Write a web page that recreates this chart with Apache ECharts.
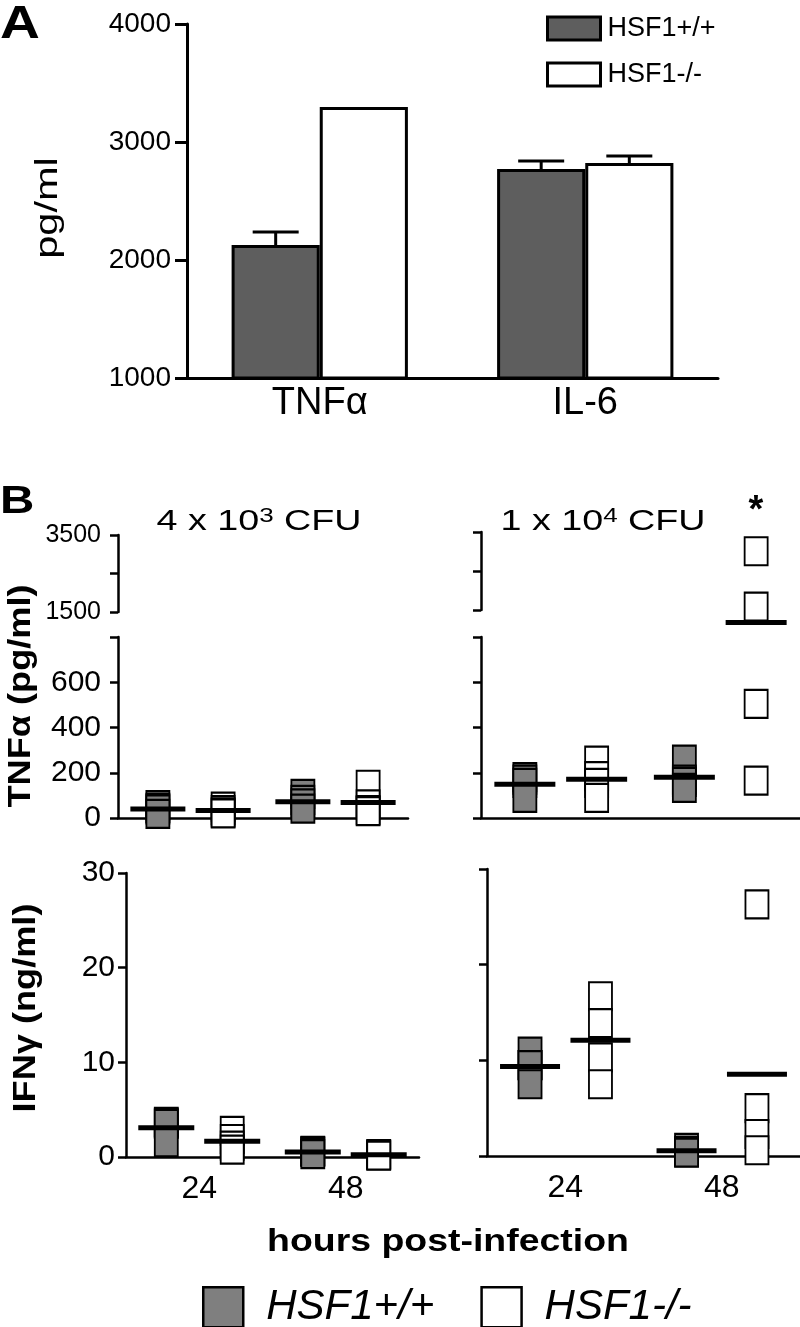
<!DOCTYPE html>
<html>
<head>
<meta charset="utf-8">
<script src="https://cdn.jsdelivr.net/npm/echarts@6/dist/echarts.min.js"></script>
<style>
html,body{margin:0;padding:0;background:#fff;}
#chart{width:800px;height:1327px;}
</style>
</head>
<body>
<div id="chart"></div>
<script>
// ---------- Panel A data ----------
const categoriesA = ['TNFα', 'IL-6'];
const groupNames = ['HSF1+/+', 'HSF1-/-'];
const wtMeanA = [2127, 2771];
const wtErrA = [110, 68];
const koMeanA = [3297, 2822];
const koErrA = [0, 59];
const ticksA = [1000, 4000, 1000]; // min, max, step

// ---------- Panel B data ----------
const timepoints = ['24', '48'];
// TNFα (pg/ml), 4 x 10^3 CFU
const tnfLow_wt = [[57, 45, 38, 18], [107, 80, 65, 41]];
const tnfLow_ko = [[50, 35, 25, 20], [147, 60, 35, 30]];
const tnfLow_wtMean = [40, 72];
const tnfLow_koMean = [33, 68];
// TNFα (pg/ml), 1 x 10^4 CFU
const tnfHigh_wt = [[181, 170, 155, 89], [258, 170, 160, 133]];
const tnfHigh_ko = [[254, 185, 155, 89], [3006, 1585, 504, 165]];
const tnfHigh_wtMean = [149, 180];
const tnfHigh_koMean = [171, 1180];
// IFNγ (ng/ml), 4 x 10^3 CFU
const ifnLow_wt = [[3.7, 3.6, 3.5, 1.55], [0.64, 0.6, 0.55, 0.3]];
const ifnLow_ko = [[2.75, 1.9, 1.2, 0.78], [0.3, 0.25, 0.2, 0.15]];
const ifnLow_wtMean = [3.1, 0.53];
const ifnLow_koMean = [1.66, 0.25];
// IFNγ (ng/ml), 1 x 10^4 CFU
const ifnHigh_wt = [[10.9, 9.5, 9.5, 7.5], [0.84, 0.5, 0.4, 0.35]];
const ifnHigh_ko = [[16.7, 13.9, 10.3, 7.5], [26.3, 5.0, 2.3, 0.6]];
const ifnHigh_wtMean = [9.35, 0.56];
const ifnHigh_koMean = [12.1, 8.55];

// axis ticks / labels
const tnfUpperTicks = [1500, 2500, 3500];
const tnfUpperLabels = [1500, 3500];
const tnfLowerTicks = [0, 200, 400, 600, 800];
const tnfLowerLabels = [0, 200, 400, 600];
const ifnTicks = [0, 10, 20, 30];

// ---------- styles ----------
const FONT = "'Liberation Sans', Arial, Helvetica, sans-serif";
const GRAY_A = '#5e5e5e';
const GRAY_B = '#7f7f7f';
const plain = v => String(v);

const chart = echarts.init(document.getElementById('chart'), null, {renderer: 'canvas'});

const grids = [
  {left: 187, top: 24, width: 531, height: 354},   // 0 A
  {left: 118, top: 535, width: 290, height: 77},   // 1 TNF low dose upper
  {left: 118, top: 637, width: 290, height: 181},  // 2 TNF low dose lower
  {left: 481, top: 532, width: 319, height: 78},   // 3 TNF high dose upper
  {left: 481, top: 637, width: 319, height: 181},  // 4 TNF high dose lower
  {left: 126, top: 873, width: 293, height: 284},  // 5 IFN low dose
  {left: 487, top: 869, width: 313, height: 287}   // 6 IFN high dose
];

const lineB = {show: true, lineStyle: {color: '#000', width: 2.5}};
const tickB = {show: true, inside: false, length: 8, lineStyle: {color: '#000', width: 2.5}};

const xAxes = [
  {type: 'category', gridIndex: 0, data: categoriesA,
   axisLine: {show: true, lineStyle: {color: '#000', width: 3}},
   axisTick: {show: false},
   axisLabel: {fontSize: 38, color: '#000', fontFamily: FONT, margin: 7}}
];
for (let g = 1; g <= 6; g++) {
  const isUpper = (g === 1 || g === 3);
  const isIfn = (g === 5 || g === 6);
  xAxes.push({
    type: 'value', gridIndex: g, min: 0, max: 2, show: !isUpper,
    axisLine: lineB, axisTick: {show: false}, splitLine: {show: false},
    axisLabel: isIfn ? {
      show: true, customValues: [0.5, 1.5], fontSize: 32, color: '#000', fontFamily: FONT, margin: 16,
      formatter: v => timepoints[Math.round(v - 0.5)]
    } : {show: false}
  });
}

function yAxisB(g, min, max, ticks, labels, labelSize, margin) {
  return {
    type: 'value', gridIndex: g, min: min, max: max,
    axisLine: lineB,
    axisTick: Object.assign({customValues: ticks}, tickB),
    splitLine: {show: false},
    axisLabel: labels ? {show: true, customValues: labels, fontSize: labelSize, color: '#000', fontFamily: FONT,
                         margin: margin, formatter: plain}
                      : {show: false}
  };
}

const yAxes = [
  {type: 'value', gridIndex: 0, min: ticksA[0], max: ticksA[1], interval: ticksA[2],
   axisLine: {show: true, lineStyle: {color: '#000', width: 3}},
   axisTick: {show: true, inside: false, length: 12, lineStyle: {color: '#000', width: 3}},
   splitLine: {show: false},
   axisLabel: {fontSize: 28, color: '#000', fontFamily: FONT, margin: 16, formatter: plain}},
  yAxisB(1, 1500, 3500, tnfUpperTicks, tnfUpperLabels, 25, 17),
  yAxisB(2, 0, 800, tnfLowerTicks, tnfLowerLabels, 30, 17),
  yAxisB(3, 1500, 3500, tnfUpperTicks, null),
  yAxisB(4, 0, 800, tnfLowerTicks, null),
  yAxisB(5, 0, 30, ifnTicks, ifnTicks, 30, 11),
  yAxisB(6, 0, 30, ifnTicks, null)
];

const series = [];
// Panel A bars
series.push({
  type: 'bar', name: groupNames[0], xAxisIndex: 0, yAxisIndex: 0, data: wtMeanA,
  barWidth: '33.2%', barGap: '0%',
  itemStyle: {color: GRAY_A, borderColor: '#000', borderWidth: 3}
});
series.push({
  type: 'bar', name: groupNames[1], xAxisIndex: 0, yAxisIndex: 0, data: koMeanA,
  barWidth: '33.2%', barGap: '0%',
  itemStyle: {color: '#fff', borderColor: '#000', borderWidth: 3}
});
const errData = [];
categoriesA.forEach((c, i) => {
  errData.push([i, wtMeanA[i], wtErrA[i], -1]);
  errData.push([i, koMeanA[i], koErrA[i], 1]);
});
series.push({
  type: 'custom', name: 'error', xAxisIndex: 0, yAxisIndex: 0, data: errData, z: 3,
  renderItem: function (params, api) {
    const i = api.value(0), m = api.value(1), e = api.value(2), side = api.value(3);
    if (!e) return null;
    const base = api.coord([i, m]);
    const top = api.coord([i, m + e]);
    const band = api.size([1, 0])[0];
    const x = base[0] + side * band * 0.166;
    return {type: 'group', children: [
      {type: 'line', shape: {x1: x, y1: base[1], x2: x, y2: top[1]}, style: {stroke: '#000', lineWidth: 3}},
      {type: 'line', shape: {x1: x - 23, y1: top[1], x2: x + 23, y2: top[1]}, style: {stroke: '#000', lineWidth: 3}}
    ]};
  }
});

// Panel B dot plots
function addPanel(lowGrid, upGrid, wt, ko, wtMean, koMean, meanWidth, lowMax) {
  const groups = [[wt, wtMean, GRAY_B, groupNames[0], -1], [ko, koMean, '#fff', groupNames[1], 1]];
  const meanLow = [], meanUp = [];
  groups.forEach(([vals, means, color, name, side]) => {
    const low = [], up = [];
    vals.forEach((arr, t) => {
      const x = t + 0.5 + side * 0.225;
      arr.forEach(v => { (upGrid !== null && v > lowMax ? up : low).push([x, v]); });
      const m = means[t];
      (upGrid !== null && m > lowMax ? meanUp : meanLow).push([x, m]);
    });
    const base = {
      type: 'scatter', name: name, symbol: 'rect', symbolSize: [23, 28], clip: false,
      itemStyle: {color: color, borderColor: '#000', borderWidth: 2, opacity: 1},
      emphasis: {disabled: true}, z: 3
    };
    series.push(Object.assign({}, base, {xAxisIndex: lowGrid, yAxisIndex: lowGrid, data: low}));
    if (upGrid !== null && up.length) {
      series.push(Object.assign({}, base, {xAxisIndex: upGrid, yAxisIndex: upGrid, data: up}));
    }
  });
  const mbase = {
    type: 'scatter', name: 'mean', symbol: 'rect', symbolSize: [meanWidth, 5], clip: false,
    itemStyle: {color: '#000', opacity: 1}, emphasis: {disabled: true}, z: 4
  };
  series.push(Object.assign({}, mbase, {xAxisIndex: lowGrid, yAxisIndex: lowGrid, data: meanLow}));
  if (upGrid !== null && meanUp.length) {
    series.push(Object.assign({}, mbase, {xAxisIndex: upGrid, yAxisIndex: upGrid, data: meanUp}));
  }
}
addPanel(2, 1, tnfLow_wt, tnfLow_ko, tnfLow_wtMean, tnfLow_koMean, 55, 800);
addPanel(4, 3, tnfHigh_wt, tnfHigh_ko, tnfHigh_wtMean, tnfHigh_koMean, 61, 800);
addPanel(5, null, ifnLow_wt, ifnLow_ko, ifnLow_wtMean, ifnLow_koMean, 56, 30);
addPanel(6, null, ifnHigh_wt, ifnHigh_ko, ifnHigh_wtMean, ifnHigh_koMean, 60, 30);

function rich(base, sup) {
  return {
    text: '{a|' + base + '}{s|' + sup + '}{a| CFU}',
    rich: {a: {fontSize: 29, fontFamily: FONT, fill: '#000'},
           s: {fontSize: 20, fontFamily: FONT, fill: '#000', verticalAlign: 'top', padding: [0, 0, 12, 0]}},
    align: 'center', verticalAlign: 'middle'
  };
}

const graphic = [
  {type: 'text', x: 0, y: 25, scaleX: 1.2, style: {text: 'A', fontSize: 46, fontWeight: 'bold', fontFamily: FONT, fill: '#000', align: 'left', verticalAlign: 'middle'}},
  {type: 'text', x: 0, y: 503, scaleX: 1.25, style: {text: 'B', fontSize: 38, fontWeight: 'bold', fontFamily: FONT, fill: '#000', align: 'left', verticalAlign: 'middle'}},
  {type: 'text', x: 48, y: 208, rotation: Math.PI / 2, scaleX: 1.3,
   style: {text: 'pg/ml', fontSize: 32, fontFamily: FONT, fill: '#000', align: 'center', verticalAlign: 'middle'}},
  {type: 'text', x: 259, y: 522, scaleX: 1.3, style: rich('4 x 10', '3')},
  {type: 'text', x: 603, y: 522, scaleX: 1.3, style: rich('1 x 10', '4')},
  {type: 'text', x: 756, y: 512, style: {text: '*', fontSize: 38, fontWeight: 'bold', fontFamily: FONT, fill: '#000', align: 'center', verticalAlign: 'middle'}},
  {type: 'text', x: 21, y: 696, rotation: Math.PI / 2, scaleX: 1.13,
   style: {text: 'TNFα (pg/ml)', fontSize: 32, fontWeight: 'bold', fontFamily: FONT, fill: '#000', align: 'center', verticalAlign: 'middle'}},
  {type: 'text', x: 26, y: 1008, rotation: Math.PI / 2, scaleX: 1.13,
   style: {text: 'IFNγ (ng/ml)', fontSize: 32, fontWeight: 'bold', fontFamily: FONT, fill: '#000', align: 'center', verticalAlign: 'middle'}},
  {type: 'text', x: 448, y: 1242, scaleX: 1.17,
   style: {text: 'hours post-infection', fontSize: 32, fontWeight: 'bold', fontFamily: FONT, fill: '#000', align: 'center', verticalAlign: 'middle'}}
];

const option = {
  backgroundColor: '#fff',
  animation: false,
  grid: grids,
  xAxis: xAxes,
  yAxis: yAxes,
  legend: [
    {orient: 'vertical', left: 546, top: 15, padding: 0, itemWidth: 53, itemHeight: 23, itemGap: 19,
     selectedMode: false, icon: 'rect',
     textStyle: {fontSize: 27, color: '#000', fontFamily: FONT, padding: [0, 0, 0, 2]},
     data: [
       {name: groupNames[0], itemStyle: {color: GRAY_A, borderColor: '#000', borderWidth: 3}},
       {name: groupNames[1], itemStyle: {color: '#fff', borderColor: '#000', borderWidth: 3}}
     ]},
    {orient: 'horizontal', left: 202, top: 1286, padding: 0, itemWidth: 40, itemHeight: 40, itemGap: 46,
     selectedMode: false, icon: 'rect',
     textStyle: {fontSize: 42, fontStyle: 'italic', color: '#000', fontFamily: FONT, padding: [0, 0, 0, 18]},
     data: [
       {name: groupNames[0], itemStyle: {color: GRAY_B, borderColor: '#000', borderWidth: 2.5}},
       {name: groupNames[1], itemStyle: {color: '#fff', borderColor: '#000', borderWidth: 2.5}}
     ]}
  ],
  graphic: graphic,
  series: series
};
chart.setOption(option);
</script>
</body>
</html>
